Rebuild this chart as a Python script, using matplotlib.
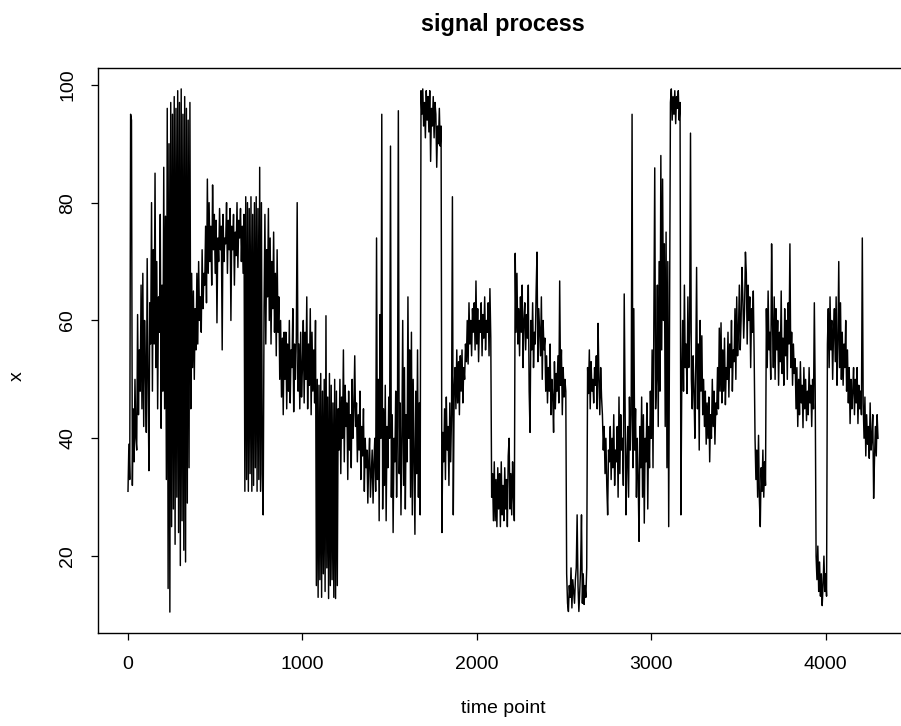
import numpy as np
import matplotlib
matplotlib.use("Agg")
import matplotlib.pyplot as plt

# signal values, one value every 5 time points
# (each row covers 100 time points)
signal = [
    31, 39, 33, 95, 94, 32, 45, 36, 50, 40, 38, 61, 44, 55, 48, 66, 45, 68, 42, 60,
    52, 41, 70.5, 50, 34.5, 63, 56, 80, 48, 72, 56, 85, 52, 70, 45, 64, 58, 78, 41.7, 66,
    48, 86, 45, 77.7, 33, 96, 14.5, 90, 10.5, 97, 25, 95, 28, 98, 22, 96, 30, 99, 24, 97,
    18.4, 99.3, 26, 95, 21, 98, 19, 96, 29, 94, 35, 97, 45, 68, 52, 65, 50, 62, 55, 68,
    56, 70, 60, 64, 58, 72, 62, 68, 66, 76, 63, 84, 68, 80, 70, 76, 66, 83, 72, 78,
    68, 77, 59.6, 74, 70, 79, 72, 76, 55, 78, 70, 74, 73, 80, 68, 77, 72, 79, 60, 76,
    72, 78, 66, 75, 71, 80, 69, 77, 74, 79, 70, 76, 68, 78, 31, 81, 33, 80, 31, 79,
    34, 81, 31, 78, 32, 80, 35, 81, 31, 79, 33, 86, 31, 80, 34, 27, 62, 78, 56, 72,
    64, 79, 60, 74, 56, 70, 62, 75, 58, 68, 54, 72, 58, 64, 50, 60, 47, 57, 44, 58,
    50, 58, 45, 56, 48, 60, 46, 55, 52, 62, 44.5, 56, 50, 57, 80, 48, 56, 45, 58, 47,
    52, 60, 46, 58, 50, 64, 45, 56, 49, 62, 44, 58, 48, 55, 46, 60, 15, 50, 13, 49,
    16, 51, 13, 48, 17, 50, 14, 60.8, 18, 47, 12.8, 51, 15, 49, 16, 46, 13, 50, 12.8, 48,
    15, 45, 38, 50, 34, 47, 40, 55, 36, 49, 42, 46, 33, 48, 38, 44, 35, 50, 40, 45,
    54, 42, 46, 36, 44, 38, 48, 33, 42, 37, 45, 31, 40, 35, 38, 29, 36, 40, 30, 34,
    38, 29, 36, 40, 31, 74, 33, 50, 26, 61, 40, 95, 28, 45, 32, 49, 26, 42, 35, 47,
    40, 89.6, 30, 44, 24, 40, 36, 48, 30, 42, 95.6, 34, 46, 27, 40, 60, 32, 52, 28, 44,
    36, 64, 40, 55, 30, 58, 27, 50, 36, 23.7, 48, 34, 55, 30, 46, 27, 99, 95, 99.3, 93,
    97, 91, 99, 94, 98, 92, 99, 87, 96, 93, 98, 91, 97, 95, 86, 93, 90, 96, 89.6, 93,
    24, 41, 36, 45, 33, 47, 38, 42, 32, 46, 36, 44, 81, 27, 48, 52, 45, 55, 46, 53,
    44, 54, 48, 55, 46, 52, 50, 56, 53, 60, 52.6, 63, 56, 60, 54, 62, 58, 63, 55, 66.7,
    56, 62, 53, 60, 58, 63, 54, 61, 57, 64, 55, 60, 58, 63, 54, 65.4, 57, 30, 34, 26,
    36, 26, 33, 25, 35, 28, 34, 25, 36, 27, 32, 26, 35, 28, 33, 25, 37, 40, 28, 34,
    27, 36, 30, 26, 71.4, 58, 68, 56, 62, 54, 64, 58, 66, 52, 60, 63, 55, 61, 57, 66,
    48, 41, 60, 55, 63, 52, 58, 56, 65, 71.6, 53, 62, 58, 54, 64, 50, 60, 55, 57, 48,
    54, 46, 52, 48, 56, 44, 50, 47, 41, 53, 45, 51, 48, 54, 46, 66.7, 49, 55, 44, 52,
    47, 50, 48, 17, 12, 10.6, 15, 13, 18, 11.2, 16, 14, 12, 16, 18, 27, 15, 10.6, 14, 18,
    27, 12, 17, 11.8, 15, 13, 18, 52, 47.6, 55, 45, 53, 48, 50, 46, 52, 49, 54, 45, 59.5,
    50, 44, 52, 47, 44, 38, 42, 34, 40, 32, 27, 38, 36, 42, 33, 40, 35, 44, 32, 38,
    36, 42, 30, 47, 34, 44, 38, 40, 32, 64.5, 45, 27, 36, 42, 30, 47, 38, 44, 95, 35,
    62, 38, 45, 30, 40, 33, 22.5, 42, 35, 47, 30, 44, 25.6, 40, 36, 46, 28, 42, 35, 48,
    40, 55, 35, 62, 85.9, 45, 50, 66, 42, 70, 48, 88, 55, 84, 60, 73, 42, 75, 35, 70,
    25, 60, 97, 99.3, 94, 98, 95, 99, 93.4, 98, 96, 99, 94, 97, 27, 50, 60, 48, 66, 52,
    56, 47.6, 64, 52, 58, 91.8, 50, 45, 54, 48, 40, 52, 69, 45, 56, 38, 60, 48, 57.4, 44,
    50, 42, 48, 39, 46, 40, 47, 36, 44, 40, 50, 42, 48, 39, 46, 44, 52, 45, 58.7, 48,
    59.6, 46, 55, 48, 57, 45.7, 52, 50, 58, 47, 56, 52, 60, 48, 55, 53, 62, 50, 64, 54,
    58, 66, 55, 60, 69, 64, 57, 62, 71.6, 68, 56, 66, 60, 64, 52, 62, 58, 65, 54, 40,
    33, 38, 30, 40.5, 29.5, 25, 35, 31, 38, 30, 36, 32, 62, 52, 65, 55, 58, 50, 73, 60,
    52, 64, 50, 62, 55, 60, 49, 58, 53, 65, 51, 57, 49, 62, 54, 60, 50, 63, 56, 73,
    52, 58, 49, 56, 51, 53.5, 45, 52, 42, 50, 44, 53, 46, 49, 41.8, 52, 45, 50, 43, 48,
    44, 52, 46, 49, 42, 50, 45, 63, 48, 20, 16, 21.7, 14, 19, 13.2, 17, 11.6, 15, 20, 14,
    17, 13.2, 56, 62, 52, 64, 55, 60, 50, 58, 62, 53, 64, 49, 56, 70, 52, 63, 50, 58,
    49, 56, 52, 60, 48, 55, 46, 52, 42.5, 50, 45, 48, 52, 44, 50, 46, 52, 42.5, 49, 45,
    48, 44, 74, 46, 40, 47, 37, 44, 39, 42, 36.6, 46, 38, 40, 44, 29.8, 36.6, 42, 37, 44,
    40,
]
step = 5
x_ticks = [0, 1000, 2000, 3000, 4000]
y_ticks = [20, 40, 60, 80, 100]

y = np.asarray(signal)
t = 1 + step * np.arange(len(y))

plt.rcParams['font.family'] = ['Liberation Sans', 'DejaVu Sans']
plt.rcParams['font.size'] = 14

W, H = 901, 726
fig = plt.figure(figsize=(W / 100, H / 100), dpi=100)
# plot box runs a little past the right edge of the picture, as in the reference
ax = fig.add_axes([98 / W, 1 - 633 / H, 810 / W, 565 / H])

ax.plot(t, y, color='black', linewidth=1.05)

# R style axis ranges: data range padded by 4 %
xr = t.max() - t.min()
yr = y.max() - y.min()
ax.set_xlim(t.min() - 0.04 * xr, t.max() + 0.04 * xr)
ax.set_ylim(y.min() - 0.04 * yr, y.max() + 0.04 * yr)

ax.set_xticks(x_ticks)
ax.set_yticks(y_ticks)
ax.tick_params(direction='out', length=5, width=0.9, color='black')
ax.tick_params(axis='x', pad=11.5)
ax.tick_params(axis='y', pad=13.5)
plt.setp(ax.get_yticklabels(), rotation=90, rotation_mode='anchor',
         ha='center', va='baseline')
for s in ax.spines.values():
    s.set_linewidth(1.0)
    s.set_color('black')

fig.text(503 / W, 1 - 31 / H, 'signal process', ha='center', va='baseline',
         fontsize=16.8, fontweight='bold')
fig.text(503 / W, 1 - 713 / H, 'time point', ha='center', va='baseline')
fig.text(22 / W, 350 / H, 'x', rotation=90, rotation_mode='anchor',
         ha='center', va='baseline')

fig.savefig('out.png', dpi=100)
